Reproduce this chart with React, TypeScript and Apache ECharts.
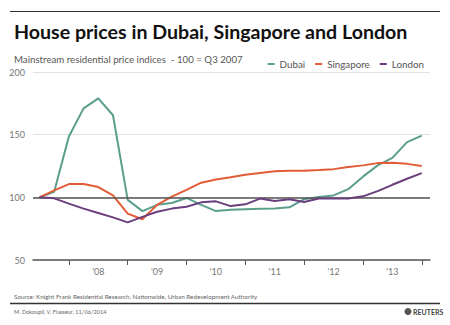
import React, { useEffect, useRef } from "react";
import * as echarts from "echarts";

const quarters = [
  "2007 Q3", "2007 Q4",
  "2008 Q1", "2008 Q2", "2008 Q3", "2008 Q4",
  "2009 Q1", "2009 Q2", "2009 Q3", "2009 Q4",
  "2010 Q1", "2010 Q2", "2010 Q3", "2010 Q4",
  "2011 Q1", "2011 Q2", "2011 Q3", "2011 Q4",
  "2012 Q1", "2012 Q2", "2012 Q3", "2012 Q4",
  "2013 Q1", "2013 Q2", "2013 Q3", "2013 Q4",
  "2014 Q1",
];

const dubai = [100, 104.5, 148.5, 171, 179, 165.5, 98, 89, 94, 95.5, 99.5, 94, 89, 90, 90.5, 90.8, 91, 92, 98.5, 100.3, 101.5, 106.5, 116.5, 125.5, 131.5, 144, 149.2];
const singapore = [100, 105.5, 110.6, 110.6, 108.2, 101.6, 87, 82.5, 94, 100.5, 106, 111.7, 114.3, 116, 118, 119.5, 120.8, 121.3, 121.3, 121.8, 122.5, 124.2, 125.5, 127.3, 127.5, 126.7, 125];
const london = [100, 99.2, 95, 91, 87.5, 84, 80, 84.4, 88.5, 91, 92.5, 96, 96.8, 93, 94.4, 99, 97, 98.4, 96.3, 99, 99, 99, 100.8, 105, 110, 114.8, 119.3];

const yearTicks = [2008, 2009, 2010, 2011, 2012, 2013, 2014];
const yearLabels = [2008.5, 2009.5, 2010.5, 2011.5, 2012.5, 2013.5];

const title = "House prices in Dubai, Singapore and London";
const subtitle = "Mainstream residential price indices  - 100 = Q3 2007";
const source = "Source: Knight Frank Residential Research, Nationwide, Urban Redevelopment Authority";
const credit = "M. Dokoupil, V. Flasseur, 11/06/2014";

const toX = (q: string) => {
  const [y, qq] = q.split(" ");
  return Number(y) + (Number(qq.slice(1)) - 1) * 0.25;
};
const pairs = (vals: number[]) => vals.map((v, i) => [toX(quarters[i]), v]);

const FONT = "Lato, 'Open Sans', sans-serif";

export default function App() {
  const ref = useRef<HTMLDivElement>(null);
  useEffect(() => {
    if (!ref.current) return;
    const chart = echarts.init(ref.current, undefined, { renderer: "svg" });
    chart.setOption({
      animation: false,
      backgroundColor: "#ffffff",
      textStyle: { fontFamily: FONT },
      grid: { left: 33, right: 20, top: 72, bottom: 65 },
      legend: {
        right: 21,
        top: 54,
        itemWidth: 7,
        itemHeight: 2,
        itemGap: 10,
        icon: "rect",
        textStyle: { fontSize: 9.8, color: "#555", fontFamily: FONT },
        data: ["Dubai", "Singapore", "London"],
      },
      xAxis: {
        type: "value",
        min: 2007.39,
        max: 2014.14,
        splitLine: { show: false },
        axisLine: { show: true, lineStyle: { color: "#555", width: 1.5 } },
        axisTick: { show: true, length: 5, customValues: yearTicks, lineStyle: { color: "#555", width: 1 } },
        axisLabel: {
          customValues: yearLabels,
          formatter: (v: number) => "'" + String(Math.floor(v)).slice(2),
          color: "#777",
          fontSize: 9,
          margin: 7,
          fontFamily: FONT,
        },
      },
      yAxis: {
        type: "value",
        min: 50,
        max: 200,
        interval: 50,
        axisLine: { show: false },
        axisTick: { show: false },
        splitLine: { show: true, lineStyle: { color: "#e2e2e2", width: 1 } },
        axisLabel: { color: "#777", fontSize: 9, margin: 8, fontFamily: FONT },
      },
      series: [
        {
          name: "Dubai",
          type: "line",
          data: pairs(dubai),
          showSymbol: false,
          lineStyle: { color: "#5c9e8d", width: 2 },
          itemStyle: { color: "#5c9e8d" },
          markLine: {
            silent: true,
            symbol: "none",
            label: { show: false },
            lineStyle: { color: "#555", width: 1.5, type: "solid" },
            data: [{ yAxis: 100 }],
          },
          z: 3,
        },
        {
          name: "Singapore",
          type: "line",
          data: pairs(singapore),
          showSymbol: false,
          lineStyle: { color: "#e25c37", width: 2 },
          itemStyle: { color: "#e25c37" },
          z: 4,
        },
        {
          name: "London",
          type: "line",
          data: pairs(london),
          showSymbol: false,
          lineStyle: { color: "#6b3f7d", width: 2 },
          itemStyle: { color: "#6b3f7d" },
          z: 5,
        },
      ],
      graphic: [
        { type: "line", shape: { x1: 10, y1: 11.5, x2: 440, y2: 11.5 }, style: { stroke: "#333", lineWidth: 1 } },
        {
          type: "text",
          x: 14,
          y: 31,
          style: { text: title, font: `bold 19.6px ${FONT}`, fill: "#111", textVerticalAlign: "middle" },
        },
        {
          type: "text",
          x: 14,
          y: 59,
          style: { text: subtitle, font: `9.7px ${FONT}`, fill: "#555", textVerticalAlign: "middle" },
        },
        {
          type: "text",
          x: 14,
          y: 296,
          style: { text: source, font: `6.3px ${FONT}`, fill: "#666", textVerticalAlign: "middle" },
        },
        { type: "line", shape: { x1: 10, y1: 303.5, x2: 440, y2: 303.5 }, style: { stroke: "#333", lineWidth: 1.5 } },
        {
          type: "text",
          x: 14,
          y: 311.5,
          style: { text: credit, font: `5.6px ${FONT}`, fill: "#666", textVerticalAlign: "middle" },
        },
        { type: "circle", shape: { cx: 408, cy: 311.5, r: 3.5 }, style: { fill: "#555" } },
        {
          type: "text",
          x: 413,
          y: 311.5,
          style: { text: "REUTERS", font: `bold 7px ${FONT}`, fill: "#444", textVerticalAlign: "middle" },
        },
      ],
    });
    return () => chart.dispose();
  }, []);
  return <div ref={ref} style={{ position: "absolute", left: 0, top: 0, width: 450, height: 325 }} />;
}
